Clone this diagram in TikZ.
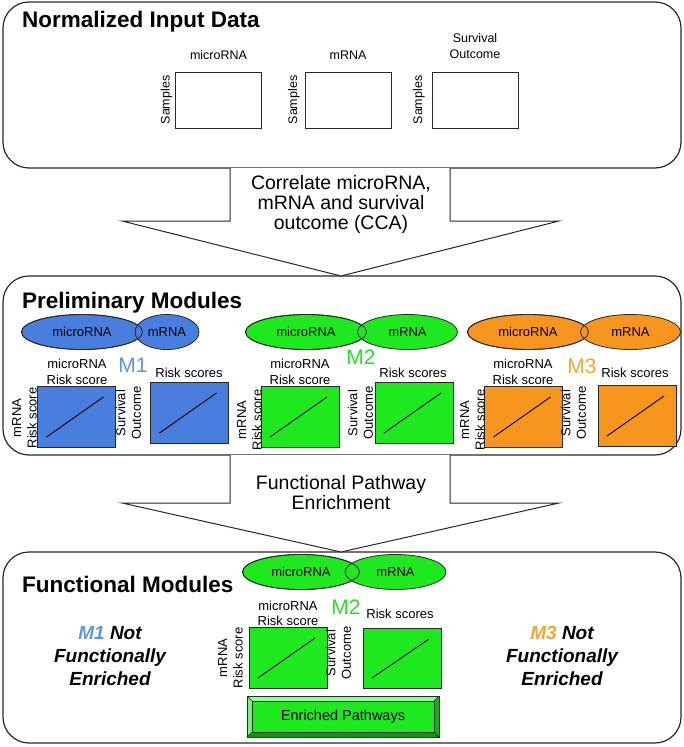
\documentclass[tikz,border=0pt]{standalone}
\usepackage{fontspec}
\setmainfont{Liberation Sans}
\usetikzlibrary{shapes.geometric}
\definecolor{cblue}{RGB}{74,126,222}
\definecolor{tblue}{RGB}{90,150,232}
\definecolor{cgreen}{RGB}{30,232,30}
\definecolor{tgreen}{RGB}{40,225,40}
\definecolor{corange}{RGB}{247,150,30}
\definecolor{torange}{RGB}{247,165,50}
\definecolor{glight}{RGB}{150,250,150}
\definecolor{gdark}{RGB}{0,160,0}
\definecolor{edge}{RGB}{40,40,40}
\tikzset{
  panel/.style={draw=edge, line width=1.2pt, rounded corners=26pt},
  titletext/.style={font=\fontsize{22.5}{26}\selectfont\bfseries, anchor=base west, inner sep=0},
  small/.style={font=\fontsize{12.5}{16}\selectfont, inner sep=0, align=center},
  lab/.style={font=\fontsize{13}{15.5}\selectfont, inner sep=0, align=center},
  mtx/.style={draw=edge, line width=0.9pt, fill=white, inner sep=0, outer sep=0, minimum width=86pt, minimum height=56pt},
  plotbox/.style={draw=edge, line width=0.9pt, inner sep=0, outer sep=0, minimum width=78pt, minimum height=61pt},
  diag/.style={draw=black, line width=0.9pt},
  ell/.style={ellipse, draw=edge, line width=0.8pt, inner sep=0, minimum height=35pt, font=\fontsize{13}{15}\selectfont},
  bigarrow/.style={draw=edge, line width=1pt, fill=white, line join=miter},
  arrowtext/.style={font=\fontsize{19.5}{20}\selectfont, inner sep=0, align=center},
  mlabel/.style={font=\fontsize{21}{24}\selectfont, inner sep=0},
  sidetext/.style={font=\fontsize{19}{23}\selectfont\bfseries\itshape, inner sep=0, align=center},
}
\begin{document}
\begin{tikzpicture}[x=1pt,y=-1pt]
\useasboundingbox (0,0) rectangle (684,747);

% ---------- panels ----------
\draw[panel] (3,2) rectangle (681,168);
\draw[panel] (3,276) rectangle (681,455);
\draw[panel] (3,552) rectangle (681,743);

% ---------- big arrows ----------
\draw[bigarrow] (230,168) -- (230,221) -- (122,221) -- (341,276) -- (559,221) -- (450,221) -- (450,168);
\node[arrowtext] (a1t) at (341,204.5) {Correlate microRNA,\\mRNA and survival\\outcome (CCA)};
\draw[bigarrow] (230,455) -- (230,503) -- (122,503) -- (341,552) -- (559,503) -- (450,503) -- (450,455);
\node[arrowtext] (a2t) at (341,492.5) {Functional Pathway\\Enrichment};

% ---------- titles ----------
\node[titletext] (t1) at (22,27) {Normalized Input Data};
\node[titletext] (t2) at (22,308) {Preliminary Modules};
\node[titletext] (t3) at (22,592) {Functional Modules};

% ---------- input matrices ----------
\node[mtx] (im1) at (218.5,100) {};
\node[mtx] (im2) at (348,100) {};
\node[mtx] (im3) at (475,100) {};
\node[small] (im1l) at (218.5,55) {microRNA};
\node[small] (im2l) at (348,55) {mRNA};
\node[small] (im3l) at (475,46) {Survival\\Outcome};
\node[small, rotate=90] (im1s) at (166.5,100) {Samples};
\node[small, rotate=90] (im2s) at (294,100) {Samples};
\node[small, rotate=90] (im3s) at (419,100) {Samples};

% ---------- M1 ----------
\node[ell, fill=cblue, minimum width=121pt] (m1e1) at (82,332) {microRNA};
\node[ell, fill=cblue, minimum width=64pt] (m1e2) at (167,332) {mRNA};
\draw[edge, line width=0.8pt] (m1e1.center) ellipse [x radius=60.5, y radius=17.5];
\node[mlabel, text=tblue] (m1l) at (133,365) {M1};
\node[lab] (m1t) at (77,372) {microRNA\\Risk score};
\node[plotbox, fill=cblue] (m1a) at (76.5,416.5) {};
\node[plotbox, fill=cblue] (m1b) at (189.5,412.5) {};
\draw[diag] ([shift={(9,-10)}]m1a.south west) -- ([shift={(-12,11)}]m1a.north east);
\draw[diag] ([shift={(9,-10)}]m1b.south west) -- ([shift={(-12,11)}]m1b.north east);
\node[lab, rotate=90] (m1y) at (24.5,418) {mRNA\\Risk score};
\node[lab, rotate=90] (m1s) at (128.5,413) {Survival\\Outcome};
\node[lab] (m1r) at (189,373) {Risk scores};

% ---------- M2 ----------
\node[ell, fill=cgreen, minimum width=121pt] (m2e1) at (306,332) {microRNA};
\node[ell, fill=cgreen, minimum width=100pt] (m2e2) at (407.5,332) {mRNA};
\draw[edge, line width=0.8pt] (m2e1.center) ellipse [x radius=60.5, y radius=17.5];
\node[mlabel, text=tgreen] (m2l) at (361,357) {M2};
\node[lab] (m2t) at (300,372) {microRNA\\Risk score};
\node[plotbox, fill=cgreen] (m2a) at (300,416.5) {};
\node[plotbox, fill=cgreen] (m2b) at (414,412.5) {};
\draw[diag] ([shift={(9,-10)}]m2a.south west) -- ([shift={(-12,11)}]m2a.north east);
\draw[diag] ([shift={(9,-10)}]m2b.south west) -- ([shift={(-12,11)}]m2b.north east);
\node[lab, rotate=90] (m2y) at (249.5,420) {mRNA\\Risk score};
\node[lab, rotate=90] (m2s) at (360.5,413) {Survival\\Outcome};
\node[lab] (m2r) at (413,373) {Risk scores};

% ---------- M3 ----------
\node[ell, fill=corange, minimum width=121pt] (m3e1) at (528,332) {microRNA};
\node[ell, fill=corange, minimum width=100pt] (m3e2) at (630.5,332) {mRNA};
\draw[edge, line width=0.8pt] (m3e1.center) ellipse [x radius=60.5, y radius=17.5];
\node[mlabel, text=torange] (m3l) at (582,366) {M3};
\node[lab] (m3t) at (523,372) {microRNA\\Risk score};
\node[plotbox, fill=corange] (m3a) at (523.5,416.5) {};
\node[plotbox, fill=corange] (m3b) at (637,415.5) {};
\draw[diag] ([shift={(9,-10)}]m3a.south west) -- ([shift={(-12,11)}]m3a.north east);
\draw[diag] ([shift={(9,-10)}]m3b.south west) -- ([shift={(-12,11)}]m3b.north east);
\node[lab, rotate=90] (m3y) at (472.5,420) {mRNA\\Risk score};
\node[lab, rotate=90] (m3s) at (573.5,413) {Survival\\Outcome};
\node[lab] (m3r) at (635,373) {Risk scores};

% ---------- Functional M2 ----------
\node[ell, fill=cgreen, minimum width=117pt] (f2e1) at (301,572) {microRNA};
\node[ell, fill=cgreen, minimum width=101pt] (f2e2) at (395.5,572) {mRNA};
\draw[edge, line width=0.8pt] (f2e1.center) ellipse [x radius=58.5, y radius=17.5];
\node[mlabel, text=tgreen] (f2l) at (346,607) {M2};
\node[lab] (f2t) at (288,613.5) {microRNA\\Risk score};
\node[plotbox, fill=cgreen] (f2a) at (288,657.5) {};
\node[plotbox, fill=cgreen, minimum height=60pt] (f2b) at (402,658) {};
\draw[diag] ([shift={(9,-10)}]f2a.south west) -- ([shift={(-12,11)}]f2a.north east);
\draw[diag] ([shift={(9,-10)}]f2b.south west) -- ([shift={(-12,11)}]f2b.north east);
\node[lab, rotate=90] (f2y) at (230.5,658) {mRNA\\Risk score};
\node[lab, rotate=90] (f2s) at (338.5,653) {Survival\\Outcome};
\node[lab] (f2r) at (400,614) {Risk scores};

% enriched pathways bevel box
\fill[glight] (247,696) -- (439,696) -- (434,701) -- (252,701) -- cycle;
\fill[glight!70!cgreen] (247,696) -- (252,701) -- (252,732) -- (247,737) -- cycle;
\fill[gdark] (247,737) -- (252,732) -- (434,732) -- (439,737) -- cycle;
\fill[gdark!70!cgreen] (439,696) -- (439,737) -- (434,732) -- (434,701) -- cycle;
\draw[edge, line width=0.8pt] (247,696) rectangle (439,737);
\draw[edge, line width=0.5pt] (247,696) -- (252,701) (439,696) -- (434,701) (247,737) -- (252,732) (439,737) -- (434,732);
\node[draw=edge, line width=0.6pt, fill=cgreen, inner sep=0, minimum width=182pt, minimum height=31pt, font=\fontsize{14.5}{17}\selectfont] (enr) at (343,716.5) {Enriched Pathways};

% side texts
\node[sidetext] (s1) at (110,656) {\textcolor{tblue}{M1} Not\\Functionally\\Enriched};
\node[sidetext] (s3) at (562,656) {\textcolor{torange}{M3} Not\\Functionally\\Enriched};
\end{tikzpicture}
\end{document}
